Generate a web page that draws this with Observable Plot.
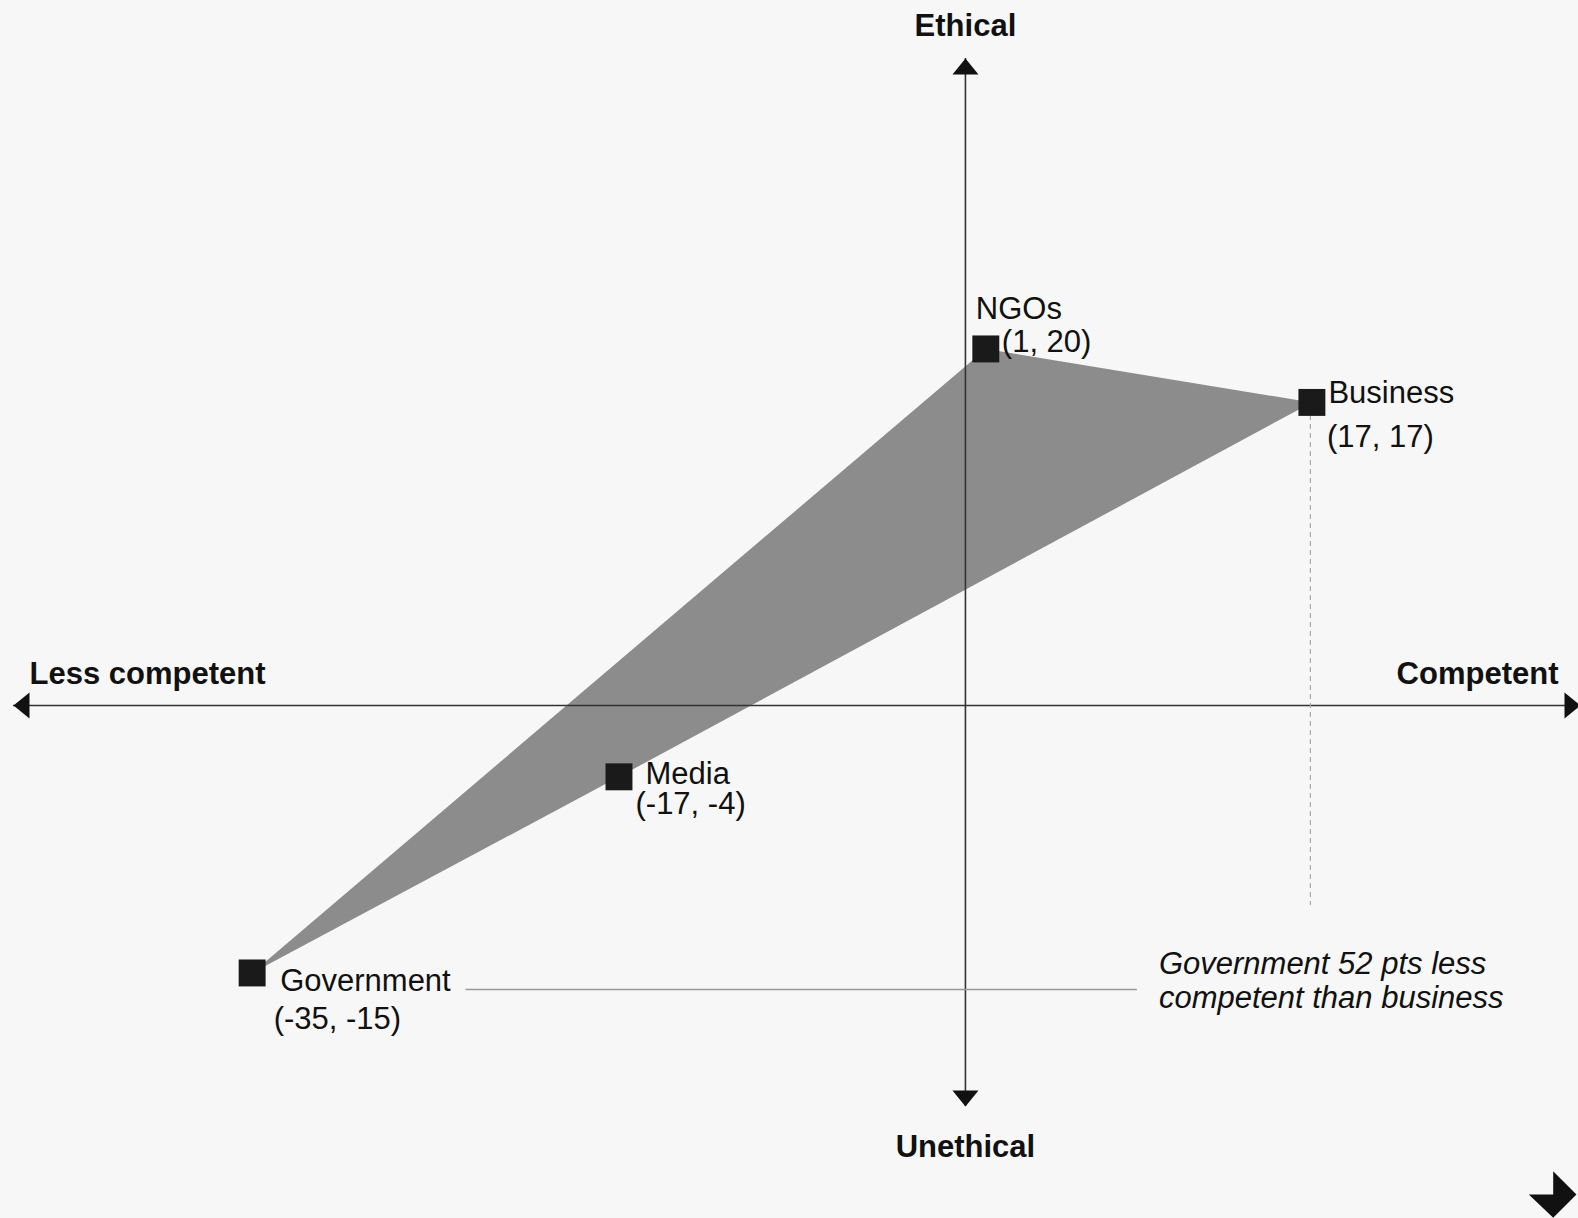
<!DOCTYPE html>
<html><head><meta charset="utf-8">
<script src="https://cdn.jsdelivr.net/npm/d3@7"></script>
<script src="https://cdn.jsdelivr.net/npm/@observablehq/plot@0.6"></script>
<style>
html,body{margin:0;padding:0;background:#f7f7f7;}
#chart svg{display:block;}
</style></head><body><div id="chart"></div>
<script>
// ---- data ----
const categories = ["NGOs", "Business", "Media", "Government"];
const competence = [1, 17, -17, -35];
const ethics = [20, 17, -4, -15];
const axisTop = "Ethical";
const axisBottom = "Unethical";
const axisLeft = "Less competent";
const axisRight = "Competent";
const annotation = "Government 52 pts less\ncompetent than business";

const data = categories.map((name, i) => ({
  name, x: competence[i], y: ethics[i], coords: `(${competence[i]}, ${ethics[i]})`
}));
const biz = data.find(d => d.name === "Business");
const gov = data.find(d => d.name === "Government");

// ---- layout ----
const xDomain = [-46.71, 30.18];
const yDomain = [-22.49, 36.29];
const FONT = "'Liberation Sans', Arial, Helvetica, sans-serif";
const FS = 31;
const INK = "#111";

// label offsets (px) for name and coordinate lines
const labelLayout = {
  NGOs:       {name: [-10, -30], coords: [16, 3]},
  Business:   {name: [16.5, 1],  coords: [15, 45]},
  Media:      {name: [26.5, 7],  coords: [16.5, 37]},
  Government: {name: [28, 18],   coords: [21.5, 56]}
};

// custom symbols
const scaleK = size => Math.sqrt(size / Math.PI) / 10;
const tri = dir => ({draw(ctx, size) {
  const k = scaleK(size), L = 16 * k, W = 13 * k;
  ctx.moveTo(0, 0);
  if (dir === "up") { ctx.lineTo(W, L); ctx.lineTo(-W, L); }
  else if (dir === "down") { ctx.lineTo(W, -L); ctx.lineTo(-W, -L); }
  else if (dir === "left") { ctx.lineTo(L, -W); ctx.lineTo(L, W); }
  else { ctx.lineTo(-L, -W); ctx.lineTo(-L, W); }
  ctx.closePath();
}});
const logo = {draw(ctx, size) {
  const k = scaleK(size);
  ctx.moveTo(-24.4 * k, 0);
  ctx.lineTo(0, 0);
  ctx.lineTo(0, -23.3 * k);
  ctx.lineTo(23.3 * k, 0);
  ctx.lineTo(0, 23.3 * k);
  ctx.closePath();
}};

const labelMarks = [];
for (const d of data) {
  const lay = labelLayout[d.name];
  labelMarks.push(Plot.text([d], {x: "x", y: "y", text: "name", dx: lay.name[0], dy: lay.name[1],
    textAnchor: "start", lineAnchor: "bottom", fontSize: FS, fill: INK}));
  labelMarks.push(Plot.text([d], {x: "x", y: "y", text: "coords", dx: lay.coords[0], dy: lay.coords[1],
    textAnchor: "start", lineAnchor: "bottom", fontSize: FS, fill: INK}));
}

const chart = Plot.plot({
  width: 1578,
  height: 1218,
  marginLeft: 13,
  marginRight: -2,
  marginTop: 58,
  marginBottom: 112,
  style: {background: "#f7f7f7", fontFamily: FONT, overflow: "visible"},
  x: {domain: xDomain, axis: null},
  y: {domain: yDomain, axis: null},
  marks: [
    // polygon
    Plot.line(data, {x: "x", y: "y", curve: "linear-closed", fill: "#8c8c8c", stroke: "none"}),
    // axes
    Plot.ruleX([0], {y1: yDomain[1], y2: yDomain[0], stroke: "#333", strokeWidth: 1.6}),
    Plot.ruleY([0], {x1: xDomain[0], x2: xDomain[1], stroke: "#333", strokeWidth: 1.6}),
    Plot.dot([0], {x: 0, y: yDomain[1], symbol: tri("up"), r: 10, fill: INK, stroke: "none"}),
    Plot.dot([0], {x: 0, y: yDomain[0], symbol: tri("down"), r: 10, fill: INK, stroke: "none"}),
    Plot.dot([0], {x: xDomain[0], y: 0, symbol: tri("left"), r: 10, fill: INK, stroke: "none"}),
    Plot.dot([0], {x: xDomain[1], y: 0, symbol: tri("right"), r: 10, fill: INK, stroke: "none"}),
    // annotation guides
    Plot.ruleX([biz], {x: "x", y1: biz.y, y2: gov.y, dx: -1.5, insetTop: 13, insetBottom: 67.5,
      stroke: "#aaa", strokeWidth: 1.2, strokeDasharray: "5,4"}),
    Plot.ruleY([gov], {y: "y", x1: gov.x, x2: biz.x, dy: 16.5, insetLeft: 214, insetRight: 174.5,
      stroke: "#999", strokeWidth: 1.5}),
    // points
    Plot.dot(data, {x: "x", y: "y", symbol: "square", r: 15.2, fill: "#1a1a1a", stroke: "none"}),
    ...labelMarks,
    // axis titles
    Plot.text([axisTop], {x: 0, y: yDomain[1], text: d => d, dy: -23, textAnchor: "middle", lineAnchor: "bottom",
      fontSize: FS, fontWeight: "bold", fill: INK}),
    Plot.text([axisBottom], {x: 0, y: yDomain[0], text: d => d, dy: 50, textAnchor: "middle", lineAnchor: "bottom",
      fontSize: FS, fontWeight: "bold", fill: INK}),
    Plot.text([axisLeft], {x: xDomain[0], y: 0, text: d => d, dx: 16, dy: -21.7, textAnchor: "start", lineAnchor: "bottom",
      fontSize: FS, fontWeight: "bold", fill: INK}),
    Plot.text([axisRight], {x: xDomain[1], y: 0, text: d => d, dx: -22, dy: -21.7, textAnchor: "end", lineAnchor: "bottom",
      fontSize: FS, fontWeight: "bold", fill: INK}),
    // annotation text
    Plot.text([annotation], {x: biz.x, y: gov.y, text: d => d, dx: -153, dy: 35.5, textAnchor: "start",
      lineAnchor: "bottom", lineHeight: 34 / 31, fontSize: FS, fontStyle: "italic", fill: INK}),
    // logo
    Plot.dot([0], {frameAnchor: "bottom-right", symbol: logo, r: 10, dx: -27.3, dy: 88, fill: INK, stroke: "none"})
  ]
});
document.getElementById("chart").appendChild(chart);
</script>
</body></html>
